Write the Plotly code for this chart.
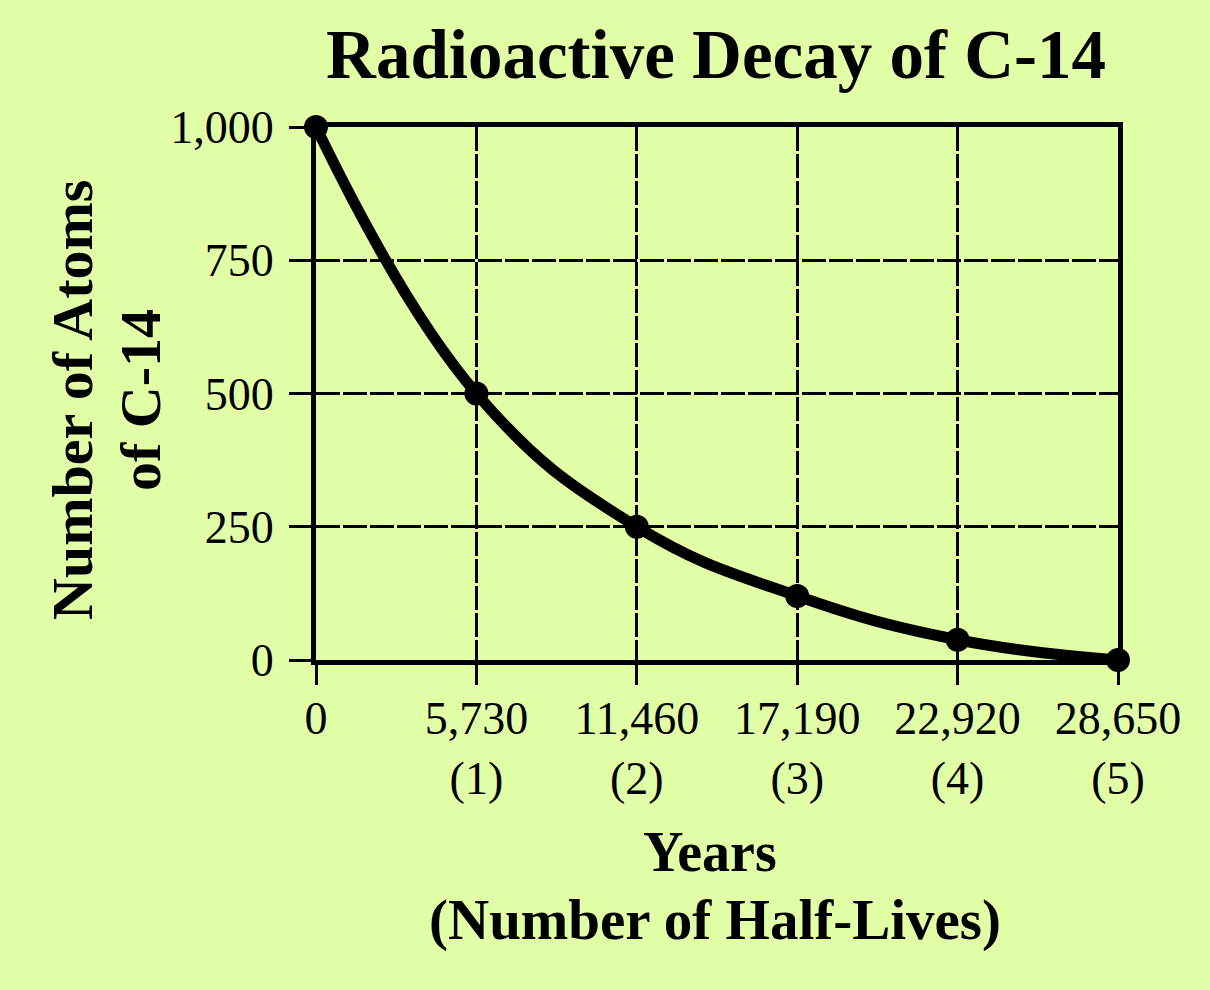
import plotly.graph_objects as go

# Data
years = [0, 5730, 11460, 17190, 22920, 28650]
atoms = [1000, 500, 250, 120, 38, 0]
x_tick_vals = [0, 5730, 11460, 17190, 22920, 28650]
x_tick_text = ["0", "5,730<br>(1)", "11,460<br>(2)", "17,190<br>(3)", "22,920<br>(4)", "28,650<br>(5)"]
y_tick_vals = [0, 250, 500, 750, 1000]
y_tick_text = ["0", "250", "500", "750", "1,000"]

BG = "#E1FFA6"
FONT = "Liberation Serif"

W, H = 1210, 990
L, R, T, B = 316, 92, 127, 330
PW, PH = W - L - R, H - T - B

def px_x(p):
    return (p - L) / PW

def px_y(p):
    return (H - B - p) / PH

fig = go.Figure()
fig.add_trace(go.Scatter(
    x=years, y=atoms,
    mode="lines+markers",
    line=dict(color="black", width=11, shape="spline", smoothing=1.2),
    marker=dict(color="black", size=24),
    cliponaxis=False,
    showlegend=False,
))

fig.update_layout(
    width=W, height=H,
    paper_bgcolor=BG, plot_bgcolor=BG,
    margin=dict(l=L, r=R, t=T, b=B),
    title=dict(
        text="<b>Radioactive Decay of C-14</b>",
        font=dict(family=FONT, size=69, color="black"),
        x=px_x(716), xref="paper", xanchor="center",
        y=1 - 54 / H, yref="container", yanchor="middle",
    ),
    font=dict(family=FONT, color="black"),
)

fig.update_xaxes(
    range=[0, 28650],
    tickvals=x_tick_vals, ticktext=x_tick_text,
    tickfont=dict(family=FONT, size=46, color="black"),
    ticks="outside", ticklen=20, tickwidth=3, tickcolor="black",
    showline=True, linecolor="black", linewidth=5, mirror=True,
    showgrid=True, gridcolor="black", gridwidth=3, griddash="24px,3px",
    zeroline=False,
    ticklabelstandoff=-6,
)
fig.update_yaxes(
    range=[0, 1000],
    tickvals=y_tick_vals, ticktext=y_tick_text,
    tickfont=dict(family=FONT, size=46, color="black"),
    ticks="outside", ticklen=22, tickwidth=3, tickcolor="black",
    showline=True, linecolor="black", linewidth=5, mirror=True,
    showgrid=True, gridcolor="black", gridwidth=3, griddash="24px,3px",
    zeroline=False,
    ticklabelstandoff=6,
)

# Y axis title, two lines
fig.add_annotation(
    text="<b>Number of Atoms</b>",
    x=px_x(72), y=px_y(400), xref="paper", yref="paper",
    xanchor="center", yanchor="middle", textangle=-90,
    showarrow=False,
    font=dict(family=FONT, size=58, color="black"),
)
fig.add_annotation(
    text="<b>of C-14</b>",
    x=px_x(140), y=px_y(400), xref="paper", yref="paper",
    xanchor="center", yanchor="middle", textangle=-90,
    showarrow=False,
    font=dict(family=FONT, size=58, color="black"),
)
# X axis title, two lines
fig.add_annotation(
    text="<b>Years</b>",
    x=px_x(710), y=px_y(852), xref="paper", yref="paper",
    xanchor="center", yanchor="middle",
    showarrow=False,
    font=dict(family=FONT, size=56, color="black"),
)
fig.add_annotation(
    text="<b>(Number of Half-Lives)</b>",
    x=px_x(715), y=px_y(920), xref="paper", yref="paper",
    xanchor="center", yanchor="middle",
    showarrow=False,
    font=dict(family=FONT, size=57, color="black"),
)

fig.write_html(
    "out.html",
    config={"displayModeBar": False},
    post_script="document.body.style.margin='0';document.body.style.background='%s';" % BG,
)
